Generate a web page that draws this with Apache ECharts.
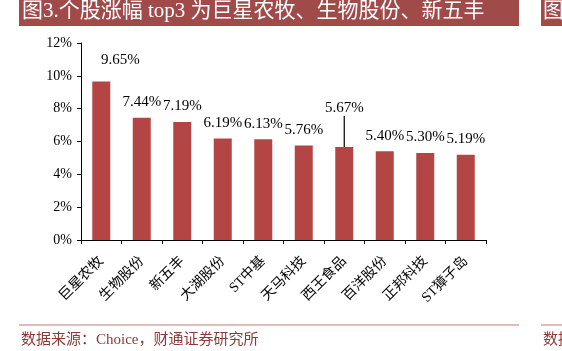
<!DOCTYPE html>
<html>
<head>
<meta charset="utf-8">
<script src="https://cdn.jsdelivr.net/npm/echarts@6/dist/echarts.min.js"></script>
<style>
  html, body { margin: 0; padding: 0; background: #fff; }
  #chart { width: 562px; height: 351px; }
</style>
</head>
<body>
<div id="chart"></div>
<script>
const stocks = ["巨星农牧", "生物股份", "新五丰", "大湖股份", "ST中基", "天马科技", "西王食品", "百洋股份", "正邦科技", "ST獐子岛"];
const gains = [9.65, 7.44, 7.19, 6.19, 6.13, 5.76, 5.67, 5.40, 5.30, 5.19];
const yTicks = [0, 2, 4, 6, 8, 10, 12];

const titleText = "图3.个股涨幅 top3 为巨星农牧、生物股份、新五丰";
const sourceText = "数据来源：Choice，财通证券研究所";

const serif = "'Liberation Serif', 'Noto Sans CJK SC', serif";
const red = "#b34644";

const chart = echarts.init(document.getElementById("chart"));

const option = {
  backgroundColor: "#fff",
  animation: false,
  grid: { left: 81, right: 76, top: 43, bottom: 111 },
  xAxis: {
    type: "category",
    data: stocks,
    axisLine: { lineStyle: { color: "#000", width: 1 } },
    axisTick: { show: true, length: 4, inside: false, lineStyle: { color: "#000" } },
    axisLabel: {
      rotate: 45,
      margin: 19,
      interval: 0,
      fontSize: 14,
      color: "#000",
      fontFamily: serif
    }
  },
  yAxis: {
    type: "value",
    min: 0,
    max: yTicks[yTicks.length - 1],
    interval: 2,
    splitLine: { show: false },
    axisLine: { show: true, lineStyle: { color: "#000", width: 1 } },
    axisTick: { show: true, length: 4, lineStyle: { color: "#000" } },
    axisLabel: {
      formatter: "{value}%",
      fontSize: 14,
      color: "#000",
      margin: 9,
      fontFamily: serif
    }
  },
  series: [
    {
      type: "bar",
      barWidth: 18,
      data: gains.map((v, i) => {
        const item = { value: v };
        if (i === 6) item.labelLine = { show: true };
        return item;
      }),
      itemStyle: { color: red },
      label: {
        show: true,
        position: "top",
        distance: 8,
        fontSize: 15,
        color: "#000",
        fontFamily: serif,
        formatter: (p) => p.value.toFixed(2) + "%"
      },
      labelLine: { show: false, lineStyle: { color: "#000", width: 1.2 } },
      labelLayout: (p) => {
        if (p.dataIndex === 0) return { dx: 19, dy: -6 };
        if (p.dataIndex === 6) return { dy: -23 };
        return {};
      }
    }
  ],
  graphic: [
    { type: "rect", left: 19, top: 0, shape: { width: 500, height: 26 }, style: { fill: "#a04a4a" } },
    { type: "rect", left: 541, top: 0, shape: { width: 21, height: 26 }, style: { fill: "#a04a4a" } },
    {
      type: "text", left: 22, top: 1,
      style: { text: titleText, fill: "#fff", fontSize: 21, fontFamily: serif }
    },
    {
      type: "text", left: 543, top: 1,
      style: { text: "图", fill: "#fff", fontSize: 21, fontFamily: serif }
    },
    { type: "line", shape: { x1: 19, y1: 325, x2: 519, y2: 325 }, style: { stroke: "#c07878", lineWidth: 1 } },
    { type: "line", shape: { x1: 541, y1: 325, x2: 562, y2: 325 }, style: { stroke: "#c07878", lineWidth: 1 } },
    {
      type: "text", left: 21, top: 333,
      style: { text: sourceText, fill: "#8b3a3a", fontSize: 15, fontFamily: serif }
    },
    {
      type: "text", left: 543, top: 333,
      style: { text: "数据", fill: "#8b3a3a", fontSize: 15, fontFamily: serif }
    }
  ]
};

chart.setOption(option);
window.addEventListener("resize", () => chart.resize());
</script>
</body>
</html>
